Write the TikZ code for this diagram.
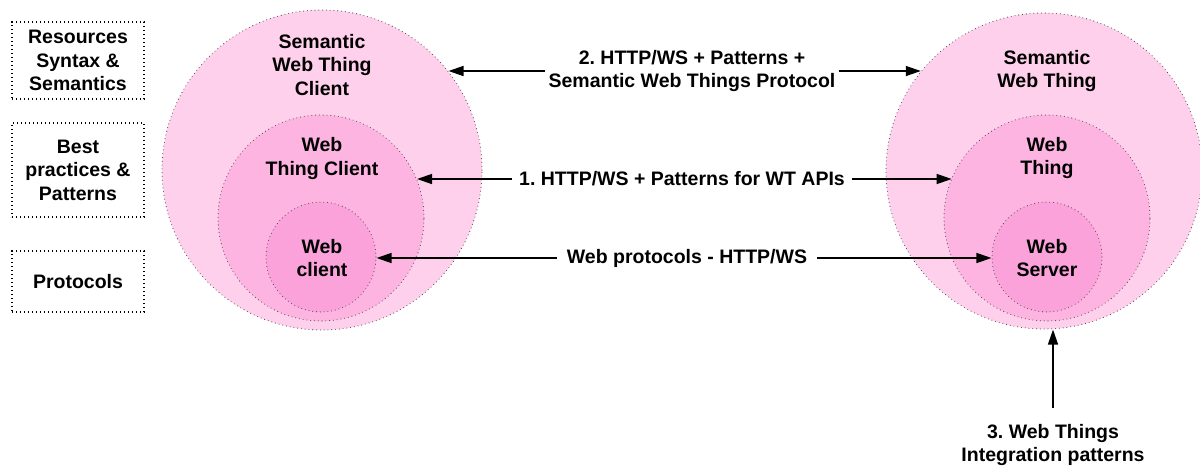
\documentclass[tikz,border=0pt]{standalone}
\usepackage{fontspec}
\setmainfont{Liberation Sans}
\usetikzlibrary{arrows.meta}
\definecolor{pinkA}{RGB}{255,208,236}
\definecolor{pinkB}{RGB}{253,180,225}
\definecolor{pinkC}{RGB}{251,162,218}
\definecolor{dotgray}{RGB}{85,75,85}
\frenchspacing
\tikzset{
  txt/.style={font=\fontsize{19.5}{23.5}\selectfont\bfseries, align=center, inner sep=0pt},
  ring/.style={circle, draw=dotgray, line width=1.1pt, line cap=round, dash pattern=on 0pt off 3.8pt, inner sep=0pt},
  layerbox/.style={draw=black, line width=1.2pt, dash pattern=on 1.4pt off 2.6pt, minimum width=132pt, inner sep=0pt},
  arr/.style={-{Triangle[length=15pt,width=10pt]}, line width=1.4pt},
  lbl/.style={txt, inner xsep=7pt}
}
\begin{document}
\begin{tikzpicture}[x=1pt,y=-1pt]
\useasboundingbox (0,0) rectangle (1200,467);
% layer boxes
\node[layerbox, minimum height=77pt] (b1) at (78,60.5) {};
\node[txt] (b1t) at (78,60.5) {Resources\\Syntax \&\\Semantics};
\node[layerbox, minimum height=94pt] (b2) at (78,170) {};
\node[txt] (b2t) at (78,170) {Best\\practices \&\\Patterns};
\node[layerbox, minimum height=61pt] (b3) at (78,281.5) {};
\node[txt] (b3t) at (78,281.5) {Protocols};
% left circles
\node[ring, fill=pinkA, minimum size=320pt] (soL) at (322,170) {};
\node[ring, fill=pinkB, minimum size=206pt] (smL) at (321,218) {};
\node[ring, fill=pinkC, minimum size=110pt] (siL) at (321,257) {};
\node[txt] (soLt) at (322,65) {Semantic\\Web Thing\\Client};
\node[txt] (smLt) at (322,158.5) {Web\\Thing Client};
\node[txt] (siLt) at (322,258) {Web\\client};
% right circles
\node[ring, fill=pinkA, minimum size=316pt] (soR) at (1044,171) {};
\node[ring, fill=pinkB, minimum size=206pt] (smR) at (1047,218) {};
\node[ring, fill=pinkC, minimum size=110pt] (siR) at (1047,257) {};
\node[txt] (soRt) at (1047,71) {Semantic\\Web Thing};
\node[txt] (smRt) at (1047,158) {Web\\Thing};
\node[txt] (siRt) at (1047,258) {Web\\Server};
% labels
\node[lbl, inner xsep=3pt] (l2) at (692,71) {2. HTTP/WS + Patterns +\\Semantic Web Things Protocol};
\node[lbl] (l1) at (682,179) {1. HTTP/WS + Patterns for WT APIs};
\node[lbl, inner xsep=10pt] (l0) at (687,258) {Web protocols - HTTP/WS};
\node[txt] (l3) at (1053,445) {3. Web Things\\Integration patterns};
% arrows
\draw[arr] (l2.west) -- (l2.west -| soL.38.2);
\draw[arr] (l2.east) -- (l2.east -| soR.141.2);
\draw[arr] (l1.west) -- (l1.west -| smL.22.3);
\draw[arr] (l1.east) -- (l1.east -| smR.157.7);
\draw[arr] (l0.west) -- (l0.west -| siL.east);
\draw[arr] (l0.east) -- (l0.east -| siR.west);
\draw[arr] ([yshift=16pt]l3.north) -- (l3.north |- soR.south);
\end{tikzpicture}
\end{document}
